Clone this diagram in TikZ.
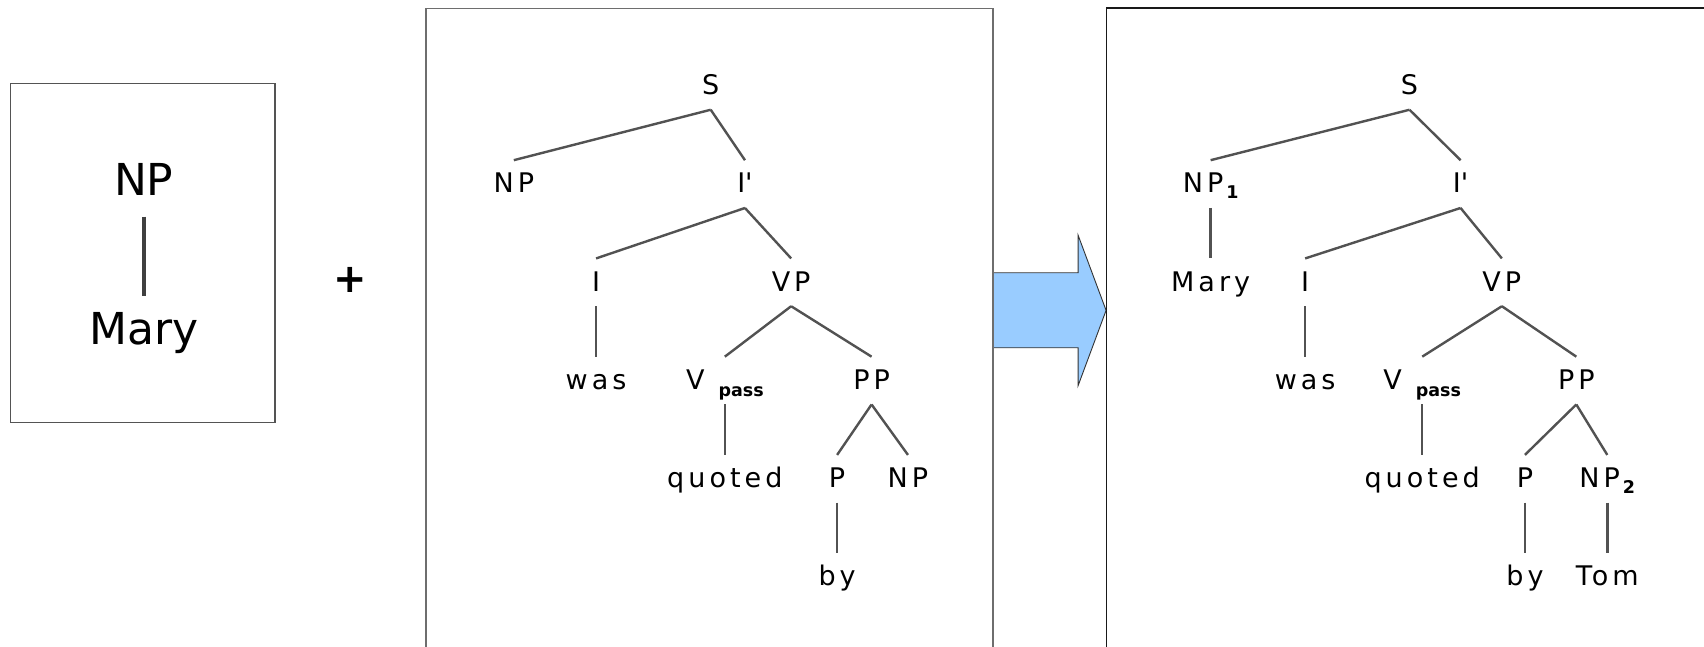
\documentclass[tikz,border=0pt]{standalone}
\usepackage{fontspec}
\setmainfont{DejaVu Sans}
\newfontfamily\treefont[LetterSpace=15]{DejaVu Sans}
\newcommand\subtext[1]{{\normalfont\bfseries\fontsize{17.5pt}{17.5pt}\selectfont #1}}
\definecolor{arrowblue}{HTML}{99CCFF}
\newcommand\treeedge[2]{\draw[edge] ([yshift=-15.2pt]#1.base) -- ([yshift=32.6pt]#2.base);}
\begin{document}
\begin{tikzpicture}[x=1.0867pt, y=-1.0867pt,
  lbl/.style={inner sep=0pt, anchor=base, font=\treefont\fontsize{27pt}{27pt}\selectfont},
  big/.style={inner sep=0pt, anchor=base, font=\fontsize{44pt}{44pt}\selectfont},
  edge/.style={draw=black!68, line width=2.4pt},
  bigedge/.style={draw=black!75, line width=3.6pt}]
\useasboundingbox (0,0) rectangle (1568,595);
\clip (0,0) rectangle (1568,595);

% frames
\coordinate (b1nw) at (10,77);   \coordinate (b1se) at (253,389);
\coordinate (b2nw) at (392,7.5); \coordinate (b2se) at (913.8,620);
\coordinate (b3nw) at (1018,7.5); \coordinate (b3se) at (1600,620);

% transformation arrow between the second and third frame
\coordinate (ar0) at (913.8,251);
\coordinate (ar1) at (913.8,320);
\coordinate (tip) at (1017.8,285.6);
\fill[arrowblue] (ar0) -- (992,251) -- (992,216.3) -- (tip) -- (992,355) -- (992,320) -- (ar1) -- cycle;
\draw[black!80, line width=0.9pt, line join=miter] (ar0) -- (992,251) -- (992,216.3) -- (tip) -- (992,355) -- (992,320) -- (ar1);

\draw[black!67, line width=1.2pt] (b1nw) rectangle (b1se);
\draw[black!57, line width=1.2pt] (b2nw) rectangle (b2se);
\draw[black!90, line width=1.3pt] (b3nw) rectangle (b3se);

% the NP to be inserted
\node[big] (np1) at (132.3,180.1) {NP};
\node[big] (mary1) at (132.3,316.8) {Mary};
\draw[bigedge] ([yshift=-21pt]np1.base) -- ([yshift=48.7pt]mary1.base);

\node[font=\bfseries\fontsize{40pt}{40pt}\selectfont, inner sep=0pt] (plus) at (322,258) {+};

% passive tree with empty subject
\node[lbl] (s2) at (654,87) {S};
\node[lbl] (np2) at (472.8,177.4) {NP};
\node[lbl] (ib2) at (685.5,177.4) {I\textquotesingle};
\node[lbl] (i2) at (548.5,267.8) {I};
\node[lbl] (vp2) at (728,267.8) {VP};
\node[lbl] (was2) at (548.5,358.2) {was};
\node[lbl] (v2) at (667,358.2) {V\hspace{14pt}\raisebox{-7pt}{\subtext{pass}}};
\node[lbl] (pp2) at (802,358.2) {PP};
\node[lbl] (q2) at (667,448.6) {quoted};
\node[lbl] (p2) at (770.3,448.6) {P};
\node[lbl] (npb2) at (835.5,448.6) {NP};
\node[lbl] (by2) at (770.3,539) {by};

\treeedge{s2}{np2}
\treeedge{s2}{ib2}
\treeedge{ib2}{i2}
\treeedge{ib2}{vp2}
\treeedge{i2}{was2}
\treeedge{vp2}{v2}
\treeedge{vp2}{pp2}
\treeedge{v2}{q2}
\treeedge{pp2}{p2}
\treeedge{pp2}{npb2}
\treeedge{p2}{by2}

% resulting tree
\node[lbl] (s3) at (1297,87) {S};
\node[lbl] (np3) at (1114,177.4) {NP\hspace{3pt}\raisebox{-6pt}{\subtext{1}}};
\node[lbl] (ib3) at (1344,177.4) {I\textquotesingle};
\node[lbl] (mary3) at (1114,267.8) {Mary};
\node[lbl] (i3) at (1201,267.8) {I};
\node[lbl] (vp3) at (1382,267.8) {VP};
\node[lbl] (was3) at (1201,358.2) {was};
\node[lbl] (v3) at (1308.7,358.2) {V\hspace{14pt}\raisebox{-7pt}{\subtext{pass}}};
\node[lbl] (pp3) at (1450.5,358.2) {PP};
\node[lbl] (q3) at (1308.7,448.6) {quoted};
\node[lbl] (p3) at (1403.2,448.6) {P};
\node[lbl] (npb3) at (1479,448.6) {NP\hspace{3pt}\raisebox{-6pt}{\subtext{2}}};
\node[lbl] (by3) at (1403.2,539) {by};
\node[lbl] (tom3) at (1479,539) {Tom};

\treeedge{s3}{np3}
\treeedge{s3}{ib3}
\treeedge{np3}{mary3}
\treeedge{ib3}{i3}
\treeedge{ib3}{vp3}
\treeedge{i3}{was3}
\treeedge{vp3}{v3}
\treeedge{vp3}{pp3}
\treeedge{v3}{q3}
\treeedge{pp3}{p3}
\treeedge{pp3}{npb3}
\treeedge{p3}{by3}
\treeedge{npb3}{tom3}
\end{tikzpicture}
\end{document}
